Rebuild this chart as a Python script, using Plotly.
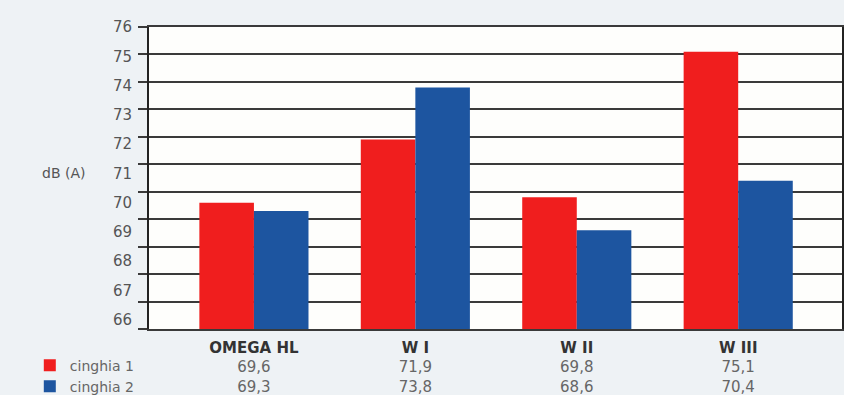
import plotly.graph_objects as go

categories = ["OMEGA HL", "W I", "W II", "W III"]
cinghia1 = [69.6, 71.9, 69.8, 75.1]
cinghia2 = [69.3, 73.8, 68.6, 70.4]
series_names = ["cinghia 1", "cinghia 2"]
y_tick_labels = [76, 75, 74, 73, 72, 71, 70, 69, 68, 67, 66]
grid_values = list(range(65, 77))

RED = "#f01e1e"
BLUE = "#1d55a0"
FONT = "DejaVu Sans"

def fmt(v):
    return f"{v:.1f}".replace(".", ",")

ticktext = [
    f"<b>{c}</b><br><span style='color:#666'>{fmt(a)}</span><br><span style='color:#666'>{fmt(b)}</span>"
    for c, a, b in zip(categories, cinghia1, cinghia2)
]

fig = go.Figure()
fig.add_trace(go.Bar(x=categories, y=cinghia1, name=series_names[0],
                     marker=dict(color=RED, line=dict(width=0)),
                     width=0.338, offset=-0.338))
fig.add_trace(go.Bar(x=categories, y=cinghia2, name=series_names[1],
                     marker=dict(color=BLUE, line=dict(width=0)),
                     width=0.338, offset=0))
# invisible helper so the label axis (yaxis2) is rendered
fig.add_trace(go.Scatter(x=[categories[0]], y=[y_tick_labels[0]], yaxis="y2",
                         mode="markers", marker=dict(opacity=0),
                         showlegend=False, hoverinfo="skip"))

fig.update_layout(
    width=844, height=395,
    margin=dict(l=149, r=2, t=27, b=66, autoexpand=False),
    paper_bgcolor="#eef2f5",
    plot_bgcolor="#fefefc",
    barmode="overlay",
    font=dict(family=FONT, size=15, color="#555"),
    showlegend=True,
    legend=dict(x=-0.172, xanchor="left", y=-0.068, yanchor="top",
                bgcolor="rgba(0,0,0,0)", font=dict(size=14, color="#666"),
                itemclick=False),
    xaxis=dict(
        type="category", range=[-0.65, 3.643],
        tickmode="array", tickvals=categories, ticktext=ticktext,
        tickfont=dict(size=15, color="#333"),
        showgrid=False, zeroline=False, ticks="",
        showline=True, linecolor="#3a3a3a", linewidth=1.6, mirror=True,
        ticklabelstandoff=4, automargin=False,
    ),
    yaxis=dict(
        range=[65, 76], tickmode="array", tickvals=grid_values,
        showticklabels=False, showgrid=True, gridcolor="#3a3a3a", gridwidth=1.6,
        ticks="outside", ticklen=9, tickwidth=1.6, tickcolor="#3a3a3a",
        showline=True, linecolor="#222", linewidth=2, mirror=True,
        zeroline=False, automargin=False,
    ),
    yaxis2=dict(
        overlaying="y", side="left", range=[65.68, 76],
        tickmode="array", tickvals=y_tick_labels,
        tickfont=dict(size=15, color="#555"),
        showgrid=False, zeroline=False, showline=False, ticks="",
        ticklabelstandoff=16, automargin=False,
    ),
    annotations=[dict(text="dB (A)", xref="paper", yref="paper",
                      x=-0.1227, y=0.5166, xanchor="center", yanchor="middle",
                      showarrow=False, font=dict(size=14, color="#555"))],
)

fig.write_html("out.html")
